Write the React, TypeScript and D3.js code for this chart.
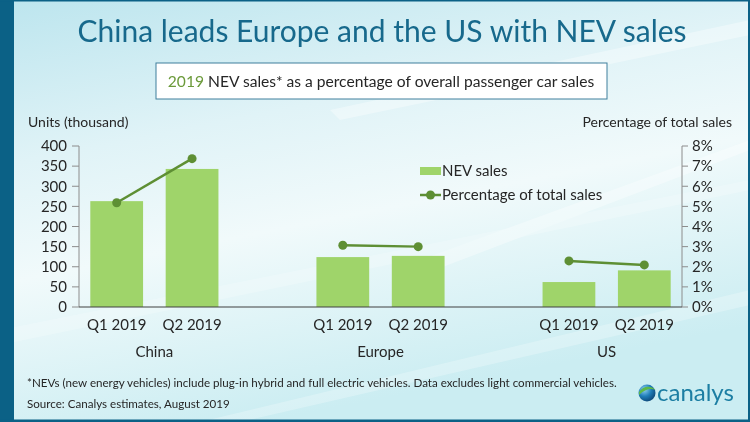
import React from "react";
import * as d3 from "d3";

const regions = ["China", "Europe", "US"];
const quarters = ["Q1 2019", "Q2 2019"];
const nevSales = [
  [263, 343],
  [124, 127],
  [62, 91],
];
const pctTotal = [
  [0.0518, 0.0737],
  [0.0307, 0.03],
  [0.0229, 0.0209],
];
const leftTicks = [0, 50, 100, 150, 200, 250, 300, 350, 400];
const rightTicks = [0, 0.01, 0.02, 0.03, 0.04, 0.05, 0.06, 0.07, 0.08];

const W = 750;
const H = 422;
const FONT = "Lato, 'Open Sans', sans-serif";
const BAR = "#9fd46a";
const LINE = "#5e8f34";
const TXT = "#262626";

type Slot = { key: string; region: number; q: number };

export default function App() {
  const slots: Slot[] = [];
  const domain: string[] = [];
  regions.forEach((r, ri) => {
    quarters.forEach((q, qi) => {
      const key = `${r}|${q}`;
      slots.push({ key, region: ri, q: qi });
      domain.push(key);
    });
    if (ri < regions.length - 1) domain.push(`gap${ri}`);
  });

  const x = d3.scaleBand<string>().domain(domain).range([79, 682]).paddingInner(0.3).paddingOuter(0.15);
  const yL = d3.scaleLinear().domain([0, 400]).range([307, 146]);
  const yR = d3.scaleLinear().domain([0, 0.08]).range([307, 146]);
  const bw = x.bandwidth();
  const cx = (k: string) => (x(k) as number) + bw / 2;
  const line = d3
    .line<[number, number]>()
    .x((d) => d[0])
    .y((d) => d[1]);

  return (
    <svg width={W} height={H} style={{ position: "absolute", left: 0, top: 0 }} xmlns="http://www.w3.org/2000/svg">
      <defs>
        <linearGradient id="bg" x1="0" y1="0" x2="0.35" y2="1">
          <stop offset="0" stopColor="#bce5ee" />
          <stop offset="0.35" stopColor="#e0f3f7" />
          <stop offset="0.6" stopColor="#f1fafb" />
          <stop offset="1" stopColor="#cbedf2" />
        </linearGradient>
        <radialGradient id="globe" cx="0.35" cy="0.3" r="0.8">
          <stop offset="0" stopColor="#8fd0f0" />
          <stop offset="0.5" stopColor="#1f7db8" />
          <stop offset="1" stopColor="#0b3f6e" />
        </radialGradient>
      </defs>
      <rect x={0} y={0} width={W} height={H} fill="url(#bg)" />
      {/* light streaks */}
      <g fill="#ffffff" opacity={0.35}>
        <polygon points="330,110 750,20 750,35 340,120" />
        <polygon points="420,260 750,140 750,150 440,268" />
        <polygon points="0,330 750,180 750,190 0,345" opacity={0.6} />
        <polygon points="200,422 750,290 750,305 240,422" opacity={0.7} />
      </g>
      {/* frame */}
      <rect x={0} y={0} width={14} height={H} fill="#0b6186" />
      <rect x={0} y={0} width={W} height={1.5} fill="#0b6186" />
      <rect x={0} y={H - 2.5} width={W} height={2.5} fill="#0b6186" />
      <rect x={W - 2} y={0} width={2} height={H} fill="#0b6186" />

      {/* title */}
      <text x={382} y={42} textAnchor="middle" fontFamily={FONT} fontSize={30} fill="#17698c">
        China leads Europe and the US with NEV sales
      </text>
      <rect x={156} y={63} width={451} height={36} fill="#ffffff" stroke="#3f7f9c" strokeWidth={1} />
      <text x={381} y={87} textAnchor="middle" fontFamily={FONT} fontSize={15.6} fill={TXT}>
        <tspan fill="#6b9a3a">2019</tspan> NEV sales* as a percentage of overall passenger car sales
      </text>

      {/* axis titles */}
      <text x={28} y={127} fontFamily={FONT} fontSize={14} fill={TXT}>
        Units (thousand)
      </text>
      <text x={732} y={127} textAnchor="end" fontFamily={FONT} fontSize={14} fill={TXT}>
        Percentage of total sales
      </text>

      {/* left axis */}
      <line x1={79} x2={79} y1={yL(400)} y2={yL(0)} stroke="#8c8c8c" />
      {leftTicks.map((t) => (
        <g key={`l${t}`}>
          <line x1={72} x2={79} y1={yL(t)} y2={yL(t)} stroke="#8c8c8c" />
          <text x={67} y={yL(t)} dy="0.35em" textAnchor="end" fontFamily={FONT} fontSize={15} fill={TXT}>
            {d3.format("d")(t)}
          </text>
        </g>
      ))}
      {/* right axis */}
      <line x1={682} x2={682} y1={yR(0.08)} y2={yR(0)} stroke="#8c8c8c" />
      {rightTicks.map((t) => (
        <g key={`r${t}`}>
          <line x1={682} x2={688} y1={yR(t)} y2={yR(t)} stroke="#8c8c8c" />
          <text x={692} y={yR(t)} dy="0.35em" fontFamily={FONT} fontSize={15} fill={TXT}>
            {d3.format(".0%")(t)}
          </text>
        </g>
      ))}

      {/* bars */}
      {slots.map((s) => (
        <rect
          key={s.key}
          x={x(s.key)}
          y={yL(nevSales[s.region][s.q])}
          width={bw}
          height={yL(0) - yL(nevSales[s.region][s.q])}
          fill={BAR}
        />
      ))}
      <line x1={79} x2={682} y1={yL(0)} y2={yL(0)} stroke="#404040" strokeWidth={1.2} />

      {/* lines */}
      {regions.map((r, ri) => {
        const pts: [number, number][] = quarters.map((q, qi) => [cx(`${r}|${q}`), yR(pctTotal[ri][qi])]);
        return (
          <g key={`line${r}`}>
            <path d={line(pts) || ""} fill="none" stroke={LINE} strokeWidth={2.5} />
            {pts.map((p, i) => (
              <circle key={i} cx={p[0]} cy={p[1]} r={4.5} fill={LINE} />
            ))}
          </g>
        );
      })}

      {/* category labels */}
      {slots.map((s) => (
        <text key={`q${s.key}`} x={cx(s.key)} y={330} textAnchor="middle" fontFamily={FONT} fontSize={15} fill={TXT}>
          {quarters[s.q]}
        </text>
      ))}
      {regions.map((r) => (
        <text
          key={`rg${r}`}
          x={(cx(`${r}|${quarters[0]}`) + cx(`${r}|${quarters[1]}`)) / 2}
          y={357}
          textAnchor="middle"
          fontFamily={FONT}
          fontSize={15}
          fill={TXT}
        >
          {r}
        </text>
      ))}

      {/* legend */}
      <rect x={420} y={167} width={21} height={8} fill={BAR} />
      <text x={442} y={176} fontFamily={FONT} fontSize={15} fill={TXT}>
        NEV sales
      </text>
      <line x1={420} x2={441} y1={195} y2={195} stroke={LINE} strokeWidth={2.5} />
      <circle cx={430.5} cy={195} r={4.5} fill={LINE} />
      <text x={442} y={200} fontFamily={FONT} fontSize={15} fill={TXT}>
        Percentage of total sales
      </text>

      {/* footnote */}
      <text x={27} y={387} fontFamily={FONT} fontSize={11.6} fill={TXT}>
        *NEVs (new energy vehicles) include plug-in hybrid and full electric vehicles. Data excludes light commercial vehicles.
      </text>
      <text x={27} y={408} fontFamily={FONT} fontSize={11.6} fill={TXT}>
        Source: Canalys estimates, August 2019
      </text>

      {/* logo */}
      <circle cx={647} cy={393} r={8.5} fill="url(#globe)" />
      <path d="M639,392 C643,386 651,385 655.5,390 C651,388 645,389 639,395 Z" fill="#5db84a" />
      <text x={657} y={401} fontFamily={FONT} fontSize={24} fill="#1c7ea3">
        canalys
      </text>
    </svg>
  );
}
